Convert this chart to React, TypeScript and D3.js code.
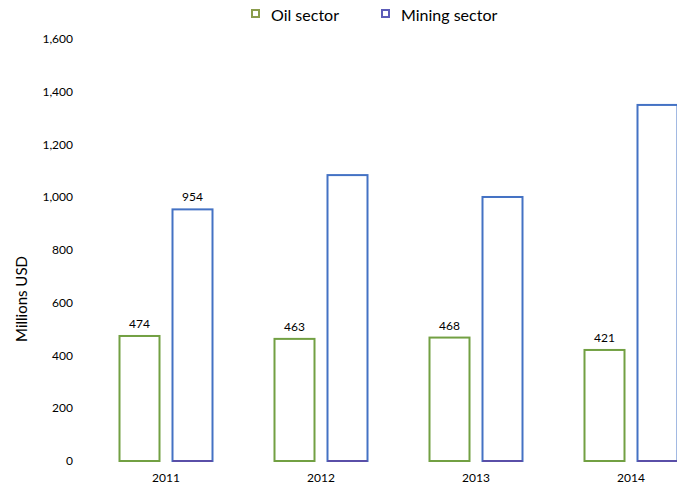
import React from "react";
import * as d3 from "d3";

const years = ["2011", "2012", "2013", "2014"];
const oilValues = [474, 463, 468, 421];
const miningValues = [954, 1084, 1001, 1350];
const oilLabels = ["474", "463", "468", "421"];
const miningLabels = ["954", "", "", ""];
const yTicks = [0, 200, 400, 600, 800, 1000, 1200, 1400, 1600];
const seriesNames = ["Oil sector", "Mining sector"];

const W = 677;
const H = 487;
const FONT = "Lato, 'Open Sans', sans-serif";
const OIL = "#72a043";
const MINING = "#4472c4";

export default function App() {
  const x = d3.scaleBand<string>().domain(years).range([88.5, 708.5]);
  const y = d3.scaleLinear().domain([0, 1600]).range([461, 39]);
  const barW = 40;
  const gap = 13;
  const outer = (x.bandwidth() - (2 * barW + gap)) / 2;
  const fmt = d3.format(",");

  return (
    <svg width={W} height={H} style={{ position: "absolute", left: 0, top: 0, background: "#fff" }} fontFamily={FONT}>
      {/* legend */}
      <rect x={252} y={10} width={7} height={7} fill="#fff" stroke="#8a9c4c" strokeWidth={2} />
      <text x={271} y={21} fontSize={16} fill="#000">{seriesNames[0]}</text>
      <rect x={382} y={10} width={7} height={7} fill="#fff" stroke="#5c5cb8" strokeWidth={2} />
      <text x={401} y={21} fontSize={16} fill="#000">{seriesNames[1]}</text>

      {/* y axis ticks */}
      {yTicks.map((t) => (
        <text key={t} x={73} y={y(t) + 4} fontSize={12} textAnchor="end" fill="#000">
          {fmt(t)}
        </text>
      ))}
      <text
        transform={`translate(27,299) rotate(-90)`}
        fontSize={15}
        textAnchor="middle"
        fill="#000"
      >
        Millions USD
      </text>

      {/* bars */}
      {years.map((yr, i) => {
        const x0 = (x(yr) as number) + outer;
        const xo = x0;
        const xm = x0 + barW + gap;
        return (
          <g key={yr}>
            <rect x={xo} y={y(oilValues[i])} width={barW} height={y(0) - y(oilValues[i])} fill="none" stroke={OIL} strokeWidth={2} />
            <rect x={xm} y={y(miningValues[i])} width={barW} height={y(0) - y(miningValues[i])} fill="none" stroke={MINING} strokeWidth={2} />
            <line x1={xm} x2={xm + barW} y1={y(0)} y2={y(0)} stroke="#5a4fa8" strokeWidth={2} />
            <text x={xo + barW / 2} y={y(oilValues[i]) - 8} fontSize={12} textAnchor="middle">{oilLabels[i]}</text>
            {miningLabels[i] && (
              <text x={xm + barW / 2} y={y(miningValues[i]) - 8} fontSize={12} textAnchor="middle">{miningLabels[i]}</text>
            )}
            <text x={(x(yr) as number) + x.bandwidth() / 2} y={482} fontSize={12} textAnchor="middle">{yr}</text>
          </g>
        );
      })}
    </svg>
  );
}
